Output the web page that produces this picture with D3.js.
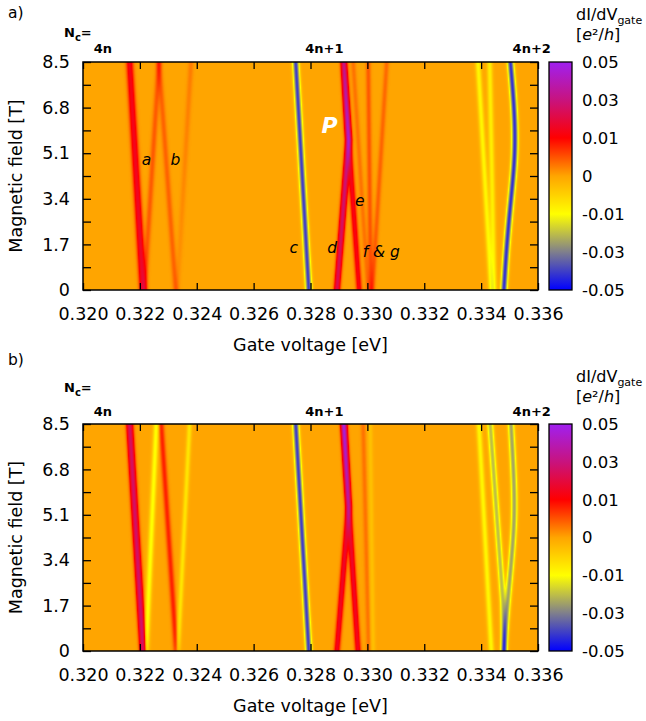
<!DOCTYPE html>
<html>
<head>
<meta charset="utf-8">
<script src="https://cdn.jsdelivr.net/npm/d3@7"></script>
<style>
  body { margin: 0; background: #fff; }
  svg { display: block; }
  text { font-family: "DejaVu Sans", sans-serif; fill: #000; }
</style>
</head>
<body>
<svg id="chart" width="646" height="721"></svg>
<script>
// ---- data ----
const gateTicks = [0.320, 0.322, 0.324, 0.326, 0.328, 0.330, 0.332, 0.334, 0.336];
const fieldTicks = [0, 1.7, 3.4, 5.1, 6.8, 8.5];
const fieldMinor = [0, 0.85, 1.7, 2.55, 3.4, 4.25, 5.1, 5.95, 6.8, 7.65, 8.5];

const chargeLabels = ['4n', '4n+1', '4n+2'];
const chargeGate = [0.32070, 0.32849, 0.33578];

const cbLabels = ['0.05', '0.03', '0.01', '0', '-0.01', '-0.03', '-0.05'];
const cbValues = [-0.05, -0.03, -0.01, 0, 0.01, 0.03, 0.05];
const cbColors = ['#0000ff', '#7f7f8c', '#ffff00', '#ffa500', '#ff0000', '#c8137e', '#a020f0'];

// conductance ridges: field B [T], gate position V [eV], amplitude A [e^2/h], width W [eV]
const ridgesA = [
  { B: [0, 8.5], V: [0.32211, 0.32164], A: [0.017, 0.013], W: 0.00012 },
  { B: [0, 8.5], V: [0.32216, 0.32267], A: [0.0045, 0.0045], W: 0.00010 },   // a
  { B: [0, 8.5], V: [0.32326, 0.32267], A: [0.004, 0.004], W: 0.00010 },     // b
  { B: [0, 8.5], V: [0.32332, 0.32380], A: [0.001, 0.0025], W: 0.00010 },
  { B: [0, 8.5], V: [0.32794, 0.32748], A: [-0.040, -0.040], W: 0.00010 },   // c
  { B: [0, 5.6, 8.5], V: [0.32893, 0.32934, 0.32917], A: [0.022, 0.030, 0.020], W: 0.00010 }, // d
  { B: [0, 5.6, 8.5], V: [0.32971, 0.32934, 0.32917], A: [0.012, 0.014, 0.010], W: 0.00010 }, // e
  { B: [0, 8.5], V: [0.33002, 0.32950], A: [0.003, 0.003], W: 0.00009 },
  { B: [0, 8.5], V: [0.33012, 0.33003], A: [0.005, 0.0045], W: 0.00009 },   // f
  { B: [0, 8.5], V: [0.33018, 0.33068], A: [0.0045, 0.0035], W: 0.00009 },  // g
  { B: [0, 8.5], V: [0.33436, 0.33389], A: [-0.009, -0.009], W: 0.00010 },
  { B: [0, 8.5], V: [0.33446, 0.33430], A: [-0.008, -0.008], W: 0.00010 },
  { B: [0, 1.7, 3.4, 5.1, 6.8, 8.5], V: [0.33480, 0.33490, 0.33505, 0.33521, 0.33517, 0.33503], A: [-0.042, -0.042, -0.042, -0.042, -0.042, -0.042], W: 0.00010 }
];

const ridgesB = [
  { B: [0, 8.5], V: [0.32211, 0.32164], A: [0.027, 0.025], W: 0.00011 },
  { B: [0, 8.5], V: [0.32222, 0.32258], A: [-0.010, -0.010], W: 0.00010 },
  { B: [0, 8.5], V: [0.32328, 0.32275], A: [0.008, 0.008], W: 0.00010 },
  { B: [0, 8.5], V: [0.32334, 0.32375], A: [-0.007, -0.007], W: 0.00009 },
  { B: [0, 8.5], V: [0.32794, 0.32748], A: [-0.040, -0.040], W: 0.00010 },
  { B: [0, 5.4, 8.5], V: [0.32893, 0.32934, 0.32917], A: [0.014, 0.017, 0.023], W: 0.00010 },
  { B: [0, 5.4, 8.5], V: [0.32967, 0.32934, 0.32917], A: [0.014, 0.017, 0.023], W: 0.00010 },
  { B: [0, 8.5], V: [0.33005, 0.32985], A: [0.003, 0.003], W: 0.00009 },
  { B: [0, 8.5], V: [0.33020, 0.33010], A: [-0.003, -0.003], W: 0.00009 },
  { B: [0, 8.5], V: [0.33436, 0.33392], A: [-0.009, -0.009], W: 0.00010 },
  { B: [0, 1.8, 8.5], V: [0.33481, 0.33477, 0.33432], A: [-0.020, -0.020, -0.020], W: 0.00010 },
  { B: [0, 1.7, 3.4, 5.1, 6.8, 8.5], V: [0.33480, 0.33492, 0.33507, 0.33519, 0.33514, 0.33505], A: [-0.024, -0.024, -0.024, -0.024, -0.024, -0.024], W: 0.00010 }
];

// ridge names in panel a, placed in data coordinates
const markText = ['a', 'b', 'c', 'd', 'e', 'f & g'];
const markGate = [0.32223, 0.32325, 0.32741, 0.32876, 0.32973, 0.33049];
const markField = [4.85, 4.85, 1.57, 1.58, 3.32, 1.43];

// ---- layout ----
const svg = d3.select('#chart');
const plotLeft = 83, plotRight = 538;
const cbLeft = 549, cbWidth = 23;
const fontSize = '17.5px';

const panels = [
  { letter: 'a)', top: 62, bottom: 290, ridges: ridgesA, marks: true,
    letterY: -44, ncY: -25, chargeY: -9 },
  { letter: 'b)', top: 424, bottom: 651, ridges: ridgesB, marks: false,
    letterY: -59, ncY: -32, chargeY: -8 }
];

// value -> colour
const colorScale = d3.scaleLinear().domain(cbValues).range(cbColors).clamp(true);
const lut = d3.range(1001).map(i => d3.rgb(colorScale(-0.05 + i * 0.0001)));

// colorbar gradient
const defs = svg.append('defs');
const grad = defs.append('linearGradient')
  .attr('id', 'cbgrad').attr('x1', 0).attr('x2', 0).attr('y1', 1).attr('y2', 0);
cbColors.forEach((c, i) => {
  grad.append('stop').attr('offset', i / (cbColors.length - 1)).attr('stop-color', c);
});

// ridge centre as a function of field: smooth spline for curved ridges, straight otherwise
function ridgePath(r) {
  if (r.B.length > 3) {
    const f = d3.interpolateBasis(r.V);
    const t = d3.scaleLinear().domain([r.B[0], r.B[r.B.length - 1]]).range([0, 1]).clamp(true);
    return b => f(t(b));
  }
  return d3.scaleLinear().domain(r.B).range(r.V);
}

function heatmap(ridges, x, y) {
  const [x0, x1] = x.range();
  const [y1, y0] = y.range();
  const w = Math.round(x1 - x0), h = Math.round(y1 - y0);
  const canvas = document.createElement('canvas');
  canvas.width = w;
  canvas.height = h;
  const ctx = canvas.getContext('2d');
  const img = ctx.createImageData(w, h);
  const fns = ridges.map(r => ({
    c: ridgePath(r),
    a: d3.scaleLinear().domain(r.B).range(r.A),
    w: r.W
  }));
  const gates = d3.range(w).map(i => x.invert(x0 + i + 0.5));
  for (let j = 0; j < h; j++) {
    const b = y.invert(y0 + j + 0.5);
    const rows = fns.map(f => [f.c(b), f.a(b), f.w]);
    for (let i = 0; i < w; i++) {
      const v = gates[i];
      let val = 0;
      for (const [c, a, ww] of rows) {
        const t = (v - c) / ww;
        if (t > -6 && t < 6) val += a * Math.exp(-t * t);
      }
      const k = Math.max(0, Math.min(1000, Math.round((val + 0.05) / 0.0001)));
      const col = lut[k];
      const p = (j * w + i) * 4;
      img.data[p] = col.r;
      img.data[p + 1] = col.g;
      img.data[p + 2] = col.b;
      img.data[p + 3] = 255;
    }
  }
  ctx.putImageData(img, 0, 0);
  return canvas.toDataURL();
}

panels.forEach(p => {
  const x = d3.scaleLinear().domain([0.320, 0.336]).range([plotLeft, plotRight]);
  const y = d3.scaleLinear().domain([0, 8.5]).range([p.bottom, p.top]);
  const g = svg.append('g');

  g.append('image')
    .attr('x', plotLeft).attr('y', p.top)
    .attr('width', plotRight - plotLeft).attr('height', p.bottom - p.top)
    .attr('preserveAspectRatio', 'none')
    .attr('href', heatmap(p.ridges, x, y));

  // axes, ticks pointing inward
  g.append('g')
    .attr('transform', `translate(0,${p.bottom})`)
    .call(d3.axisBottom(x).tickValues(gateTicks).tickFormat(d3.format('.3f'))
      .tickSize(-7).tickPadding(18));
  g.append('g')
    .attr('transform', `translate(${plotLeft},0)`)
    .call(d3.axisLeft(y).tickValues(fieldTicks).tickFormat(d => d === 0 ? '0' : d3.format('.1f')(d))
      .tickSize(0).tickPadding(13));
  g.append('g')
    .attr('transform', `translate(${plotLeft},0)`)
    .call(d3.axisLeft(y).tickValues(fieldMinor).tickFormat('').tickSize(-8));
  g.append('g')
    .attr('transform', `translate(${plotRight},0)`)
    .call(d3.axisRight(y).tickValues(fieldMinor).tickFormat('').tickSize(-8));
  g.append('g')
    .attr('transform', `translate(0,${p.top})`)
    .call(d3.axisTop(x).tickValues(gateTicks).tickFormat('').tickSize(-7));

  g.selectAll('.domain').remove();
  g.selectAll('.tick line').attr('stroke', '#000').attr('stroke-width', 1.3);
  g.selectAll('.tick text').style('font-size', fontSize).style('font-family', '"DejaVu Sans", sans-serif');

  g.append('rect')
    .attr('x', plotLeft).attr('y', p.top)
    .attr('width', plotRight - plotLeft).attr('height', p.bottom - p.top)
    .attr('fill', 'none').attr('stroke', '#000').attr('stroke-width', 1.5);

  // axis titles
  g.append('text')
    .attr('x', (plotLeft + plotRight) / 2).attr('y', p.bottom + 61)
    .attr('text-anchor', 'middle').style('font-size', fontSize)
    .text('Gate voltage [eV]');
  g.append('text')
    .attr('transform', `translate(22,${(p.top + p.bottom) / 2}) rotate(-90)`)
    .attr('text-anchor', 'middle').style('font-size', fontSize)
    .text('Magnetic field [T]');

  // panel letter
  g.append('text').attr('x', 8).attr('y', p.top + p.letterY)
    .style('font-size', '15.5px').text(p.letter);

  // charge state labels
  const nc = g.append('text').attr('x', 64).attr('y', p.top + p.ncY)
    .style('font-size', '13px').style('font-weight', 'bold');
  nc.append('tspan').text('N');
  nc.append('tspan').attr('dy', 4).style('font-size', '10px').text('c');
  nc.append('tspan').attr('dy', -4).text('=');
  g.selectAll('.charge').data(chargeLabels).join('text')
    .attr('class', 'charge')
    .attr('x', (d, i) => x(chargeGate[i])).attr('y', p.top + p.chargeY)
    .attr('text-anchor', 'middle')
    .style('font-size', '13px').style('font-weight', 'bold')
    .text(d => d);

  // colorbar
  const cb = d3.scalePoint().domain(cbLabels).range([p.top, p.bottom]);
  g.append('rect')
    .attr('x', cbLeft).attr('y', p.top)
    .attr('width', cbWidth).attr('height', p.bottom - p.top)
    .attr('fill', 'url(#cbgrad)').attr('stroke', '#000').attr('stroke-width', 1.3);
  g.selectAll('.cbl').data(cbLabels).join('text')
    .attr('class', 'cbl')
    .attr('x', 582).attr('y', d => cb(d)).attr('dy', '0.36em')
    .style('font-size', '16.5px')
    .text(d => d);
  const t1 = g.append('text').attr('x', 576).attr('y', p.top - 42).style('font-size', '16px');
  t1.append('tspan').text('dI/dV');
  t1.append('tspan').attr('dy', 4).style('font-size', '11px').text('gate');
  const t2 = g.append('text').attr('x', 576).attr('y', p.top - 22).style('font-size', '16px');
  t2.append('tspan').text('[');
  t2.append('tspan').style('font-style', 'italic').text('e');
  t2.append('tspan').text('²/');
  t2.append('tspan').style('font-style', 'italic').text('h');
  t2.append('tspan').text(']');

  if (p.marks) {
    g.selectAll('.mark').data(markText).join('text')
      .attr('class', 'mark')
      .attr('x', (d, i) => x(markGate[i])).attr('y', (d, i) => y(markField[i]))
      .attr('dy', '0.35em').attr('text-anchor', 'middle')
      .style('font-size', '15.5px').style('font-style', 'italic')
      .text(d => d);
    g.append('text')
      .attr('x', x(0.32867)).attr('y', y(6.15)).attr('dy', '0.35em')
      .attr('text-anchor', 'middle')
      .style('font-size', '22px').style('font-weight', 'bold').style('font-style', 'italic')
      .style('fill', '#fff')
      .text('P');
  }
});
</script>
</body>
</html>
